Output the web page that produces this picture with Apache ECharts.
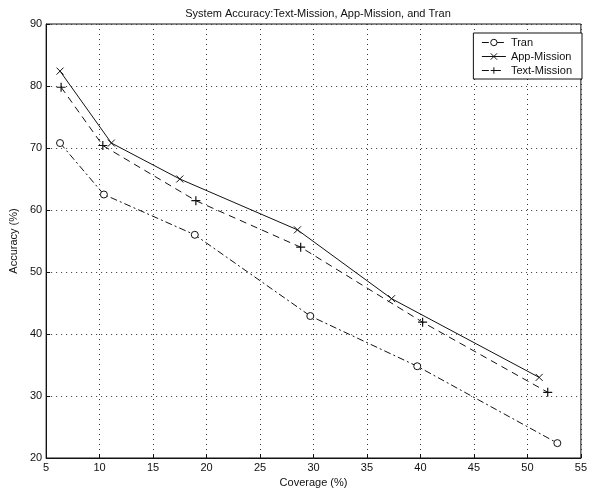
<!DOCTYPE html>
<html>
<head>
<meta charset="utf-8">
<script src="https://cdn.jsdelivr.net/npm/echarts@6/dist/echarts.min.js"></script>
<style>
  html, body { margin: 0; padding: 0; background: #fff; }
  #chart { width: 590px; height: 497px; }
</style>
</head>
<body>
<div id="chart"></div>
<script>
const seriesNames = ['Tran', 'App-Mission', 'Text-Mission']

// [coverage %, accuracy %]
const tranPoints = [[6.3, 70.8], [10.4, 62.5], [18.9, 56.0], [29.7, 42.9], [39.7, 34.8], [52.8, 22.4]]
const appPoints = [[6.3, 82.4], [11.1, 70.8], [17.5, 65.0], [28.5, 56.8], [37.3, 45.7], [51.1, 33.0]]
const textPoints = [[6.4, 79.8], [10.3, 70.4], [19.0, 61.5], [28.8, 54.0], [40.2, 41.9], [51.9, 30.6]]

const xRange = [5, 55, 5]
const yRange = [20, 90, 10]

const ink = '#111'
const font = 'Liberation Sans, Arial, sans-serif'

const crossPath = 'path://M0,0L10,10M10,0L0,10'
const plusPath = 'path://M5,0L5,10M0,5L10,5'

const chart = echarts.init(document.getElementById('chart'))

function axisCommon(name, range, gap) {
  return {
    type: 'value',
    name: name,
    nameLocation: 'middle',
    nameGap: gap,
    nameTextStyle: { color: ink, fontFamily: font, fontSize: 11 },
    min: range[0],
    max: range[1],
    interval: range[2],
    axisLine: { show: true, lineStyle: { color: ink, width: 1 } },
    axisTick: { show: true, inside: true, length: 4, lineStyle: { color: ink } },
    axisLabel: { color: ink, fontFamily: font, fontSize: 11, margin: 4 },
    splitLine: { show: true, lineStyle: { color: '#333', type: [1, 4], width: 1 } },
  }
}

chart.setOption({
  animation: false,
  title: {
    text: 'System Accuracy:Text-Mission, App-Mission, and Tran',
    left: 313,
    textAlign: 'center',
    top: 3,
    textStyle: { color: ink, fontFamily: font, fontSize: 11, fontWeight: 'normal' },
  },
  grid: {
    left: 40,
    right: 6,
    top: 24,
    bottom: 39,
    show: true,
    borderColor: ink,
    borderWidth: 1,
  },
  legend: {
    orient: 'vertical',
    right: 8,
    top: 33,
    itemGap: 3,
    itemWidth: 24,
    itemHeight: 8,
    padding: [4, 10, 3, 8],
    backgroundColor: '#fff',
    borderColor: ink,
    borderWidth: 1,
    borderRadius: 0,
    itemStyle: { borderWidth: 1 },
    lineStyle: { width: 1 },
    textStyle: { color: ink, fontFamily: font, fontSize: 11 },
    data: seriesNames,
  },
  xAxis: axisCommon('Coverage (%)', xRange, 17),
  yAxis: axisCommon('Accuracy (%)', yRange, 24),
  series: [
    {
      name: seriesNames[0],
      type: 'line',
      data: tranPoints,
      symbol: 'circle',
      symbolSize: 7,
      itemStyle: { color: '#fff', borderColor: ink, borderWidth: 1 },
      lineStyle: { color: ink, width: 1, type: [7, 3, 2, 3] },
    },
    {
      name: seriesNames[1],
      type: 'line',
      data: appPoints,
      symbol: crossPath,
      symbolSize: 7,
      itemStyle: { color: 'transparent', borderColor: ink, borderWidth: 1 },
      lineStyle: { color: ink, width: 1, type: 'solid' },
    },
    {
      name: seriesNames[2],
      type: 'line',
      data: textPoints,
      symbol: plusPath,
      symbolSize: 9,
      itemStyle: { color: 'transparent', borderColor: ink, borderWidth: 1.2 },
      lineStyle: { color: ink, width: 1, type: [7, 5] },
    },
  ],
})
</script>
</body>
</html>
